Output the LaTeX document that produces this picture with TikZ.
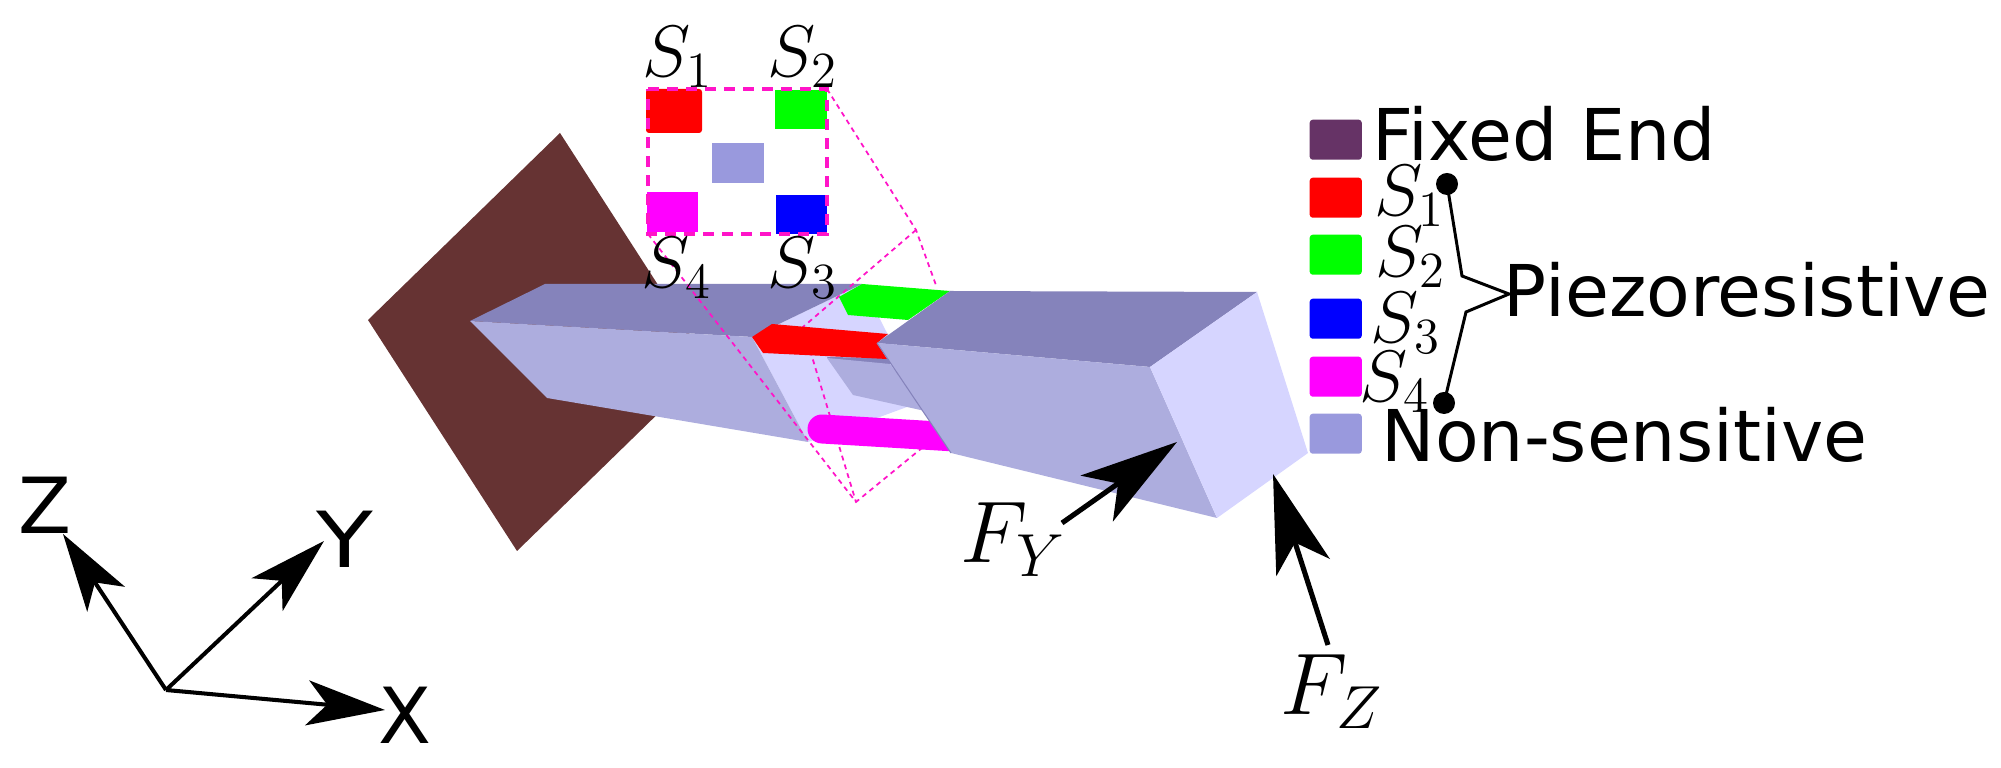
\documentclass[tikz,border=0pt]{standalone}
\usepackage{amsmath,amssymb}
\usepackage{fontspec}
\setmainfont{DejaVu Sans}
\usetikzlibrary{arrows.meta, positioning, calc}
\definecolor{wallbrown}{RGB}{102,51,51}
\definecolor{fixedend}{RGB}{102,51,102}
\definecolor{topface}{RGB}{133,131,187}
\definecolor{frontface}{RGB}{173,173,222}
\definecolor{endface}{RGB}{214,213,255}
\definecolor{nonsens}{RGB}{153,153,221}
\definecolor{hotpink}{RGB}{255,20,200}
\definecolor{sensred}{RGB}{255,0,0}
\definecolor{sensgreen}{RGB}{0,255,0}
\definecolor{sensblue}{RGB}{0,0,255}
\definecolor{sensmagenta}{RGB}{255,0,255}
\tikzset{
  swatch/.style={anchor=north west, inner sep=0pt, minimum width=5.2mm, minimum height=4mm, rounded corners=0.3mm},
  legendtext/.style={anchor=base west, inner sep=0pt, font=\fontsize{20.3}{22}\selectfont},
  axislabel/.style={anchor=base west, inner sep=0pt, font=\fontsize{22}{24}\selectfont},
  senslabel/.style={anchor=base west, inner sep=0pt, font=\fontsize{21}{23}\selectfont},
  forcelabel/.style={anchor=base west, inner sep=0pt, font=\fontsize{26}{28}\selectfont},
  blackdot/.style={circle, fill=black, inner sep=0pt, minimum size=2.2mm},
  axisarrow/.style={line width=1.15pt, -{Stealth[length=7.8mm, width=4.5mm, inset=2mm]}},
  forcearrow/.style={line width=1.45pt, -{Stealth[length=9.8mm, width=5.6mm, inset=2.6mm]}},
  boxline/.style={hotpink, line width=1.3pt, dash pattern=on 1.05mm off 0.85mm},
  zoomline/.style={hotpink, line width=0.5pt, dash pattern=on 1.4pt off 1.2pt},
  brace/.style={line width=0.85pt}
}
\begin{document}
\begin{tikzpicture}[x=0.01cm, y=-0.01cm]
  \useasboundingbox (0,0) rectangle (2001,768);
  % Fixed wall
  \fill[wallbrown] (560,133) -- (368,320) -- (517,551) -- (709,364) -- cycle;
  % Left part of the beam
  \fill[endface] (752,337) -- (862,284) -- (887,333) -- (907,360) -- (907,407) -- (877,418) -- (808,442) -- cycle;
  \fill[topface] (827,357) -- (888,358) -- (892,364) -- (832,364) -- cycle;
  \fill[frontface] (827,358) -- (890,364) -- (925,411) -- (853,395) -- cycle;
  \fill[topface] (470,321) -- (545,284) -- (862,284) -- (752,337) -- cycle;
  \fill[frontface] (470,321) -- (752,337) -- (808,442) -- (547,398) -- cycle;
  % Zoom lines
  \coordinate (boxa) at (648,89);
  \coordinate (boxb) at (827,89);
  \coordinate (boxc) at (827,234);
  \coordinate (boxd) at (648,234);
  \coordinate (backtop) at (916,230);
  \coordinate (backleft) at (803,327);
  \coordinate (backlow) at (856,502);
  \draw[zoomline] (boxb) -- (backtop) -- (937,288);
  \draw[zoomline] (backtop) -- (backleft) -- (backlow);
  \draw[zoomline] (boxd) -- (backlow) -- (950,425);
  % Sensors on the neck
  \draw[sensmagenta, line width=8.25pt, line cap=round] (822,429) -- (955,437);
  \fill[sensred] (752,337) -- (772,324) -- (888,334) -- (877,343) -- (887,359) -- (763,353) -- cycle;
  \fill[sensgreen] (839,297) -- (862,284) -- (950,291) -- (908,320) -- (848,315) -- cycle;
  % Right part of the beam
  \fill[topface] (877,343) -- (950,291) -- (1257,292) -- (1150,367) -- cycle;
  \fill[frontface] (877,343) -- (1150,367) -- (1217,518) -- (951,453) -- cycle;
  \fill[endface] (1150,367) -- (1257,292) -- (1308,453) -- (1217,518) -- cycle;
  \draw[topface, line width=0.3pt] (877,343) -- (951,453);
  % Sensor layout
  \fill[sensred, rounded corners=0.3mm] (646,89) rectangle (702,133);
  \fill[sensgreen] (775,90) rectangle (827,129);
  \fill[nonsens] (712,143) rectangle (764,183);
  \fill[sensmagenta] (647,192) rectangle (698,232);
  \fill[sensblue] (776,195) rectangle (827,234);
  \draw[boxline] (boxa) -- (boxb) -- (boxc) -- (boxd) -- cycle;
  \node[senslabel] (topsa) at (642,77) {$S_1$};
  \node[senslabel] (topsb) at (767,77) {$S_2$};
  \node[senslabel] (topsc) at (767,288) {$S_3$};
  \node[senslabel] (topsd) at (641,288) {$S_4$};
  % Legend
  \node[swatch, fill=fixedend] (swfixed) at (1309,119) {};
  \node[swatch, fill=sensred] (swa) at (1309,177) {};
  \node[swatch, fill=sensgreen] (swb) at (1309,234) {};
  \node[swatch, fill=sensblue] (swc) at (1309,298) {};
  \node[swatch, fill=sensmagenta] (swd) at (1309,356) {};
  \node[swatch, fill=nonsens] (swnon) at (1309,413) {};
  \node[legendtext] (fixedtext) at (1372,161) {Fixed End};
  \node[senslabel] (lega) at (1374,216) {$S_1$};
  \node[senslabel] (legb) at (1375,277) {$S_2$};
  \node[senslabel] (legc) at (1370,343) {$S_3$};
  \node[senslabel] (legd) at (1359,402) {$S_4$};
  \node[legendtext] (piezotext) at (1503,317) {Piezoresistive};
  \node[legendtext] (nontext) at (1381,462) {Non-sensitive};
  % Bracket
  \node[blackdot] (dota) at (1447,184) {};
  \node[blackdot] (dotb) at (1444,403) {};
  \coordinate (bracetip) at (1509,294);
  \draw[brace] (dota.center) -- (1462,276) -- (bracetip) -- (1466,312) -- (dotb.center);
  % Forces
  \coordinate (fytail) at (1062,523);
  \coordinate (fytip) at (1177,442);
  \coordinate (fztail) at (1328,645);
  \coordinate (fztip) at (1273,474);
  \draw[forcearrow] (fytail) -- (fytip);
  \draw[forcearrow] (fztail) -- (fztip);
  \node[forcelabel] (fylabel) at (960,563) {$F_Y$};
  \node[forcelabel] (fzlabel) at (1280,715) {$F_Z$};
  % Axes
  \coordinate (origin) at (166,690);
  \node[axislabel] (zlabel) at (18,534) {Z};
  \node[axislabel] (ylabel) at (316,568) {\scalebox{1.2}[1]{Y}};
  \node[axislabel] (xlabel) at (378,744) {X};
  \draw[axisarrow] (origin) -- (63,534);
  \draw[axisarrow] (origin) -- (324,541);
  \draw[axisarrow] (origin) -- (385,710);
\end{tikzpicture}
\end{document}
